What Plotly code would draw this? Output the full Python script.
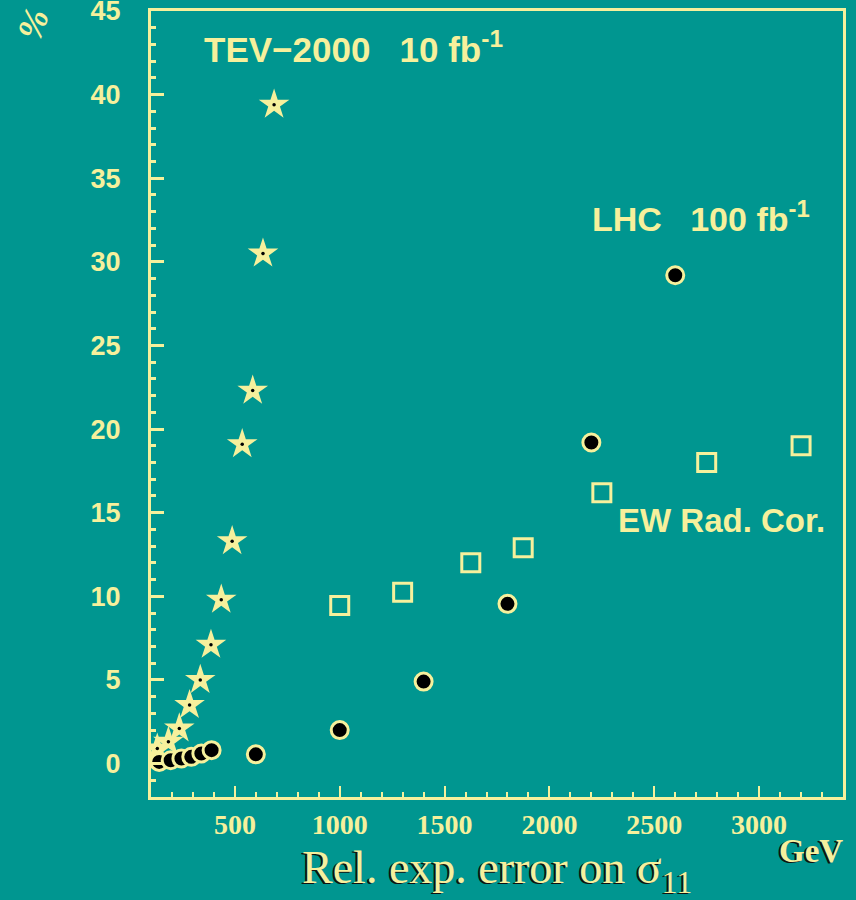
import plotly.graph_objects as go

# Colours
BG = "#009690"
INK = "#F6F09C"

# TEV-2000 (10 fb^-1): stars
tev_star_x = [130, 183, 235, 284, 335, 386, 435, 487, 535, 585, 634, 687]
tev_star_y = [0.9, 1.3, 2.1, 3.5, 5.0, 7.1, 9.8, 13.3, 19.1, 22.3, 30.5, 39.4]

# TEV-2000: filled circles at low mass
tev_circ_x = [139, 194, 245, 292, 340, 389]
tev_circ_y = [0.1, 0.2, 0.3, 0.4, 0.6, 0.8]

# LHC (100 fb^-1): filled circles
lhc_circ_x = [600, 1000, 1400, 1800, 2200, 2600]
lhc_circ_y = [0.55, 2.0, 4.9, 9.55, 19.2, 29.2]

# EW radiative corrections: open squares
ew_x = [1000, 1300, 1625, 1875, 2250, 2750, 3200]
ew_y = [9.45, 10.25, 12.0, 12.9, 16.2, 18.0, 19.0]

x_ticks = [500, 1000, 1500, 2000, 2500, 3000]
y_ticks = [0, 5, 10, 15, 20, 25, 30, 35, 40, 45]

fig = go.Figure()

fig.add_trace(go.Scatter(
    x=tev_star_x, y=tev_star_y, mode="markers",
    marker=dict(symbol="star", size=23, color=INK, line=dict(width=0)),
    hoverinfo="skip"))
fig.add_trace(go.Scatter(
    x=tev_star_x, y=tev_star_y, mode="markers",
    marker=dict(symbol="circle", size=3.5, color="black", line=dict(width=0)),
    hoverinfo="skip"))

fig.add_trace(go.Scatter(
    x=tev_circ_x + lhc_circ_x, y=tev_circ_y + lhc_circ_y, mode="markers",
    marker=dict(symbol="circle", size=17, color="black",
                line=dict(width=3, color=INK)),
    hoverinfo="skip"))

fig.add_trace(go.Scatter(
    x=ew_x, y=ew_y, mode="markers",
    marker=dict(symbol="square-open", size=18, color=INK,
                line=dict(width=3, color=INK)),
    hoverinfo="skip"))

sans = "Liberation Sans"
serif = "Liberation Serif"

fig.update_layout(
    width=856, height=900,
    paper_bgcolor=BG, plot_bgcolor=BG,
    showlegend=False,
    margin=dict(l=151, r=13, t=11, b=103, autoexpand=False),
    xaxis=dict(
        range=[100, 3400], tickvals=x_ticks,
        ticktext=[str(v) for v in x_ticks],
        showgrid=False, zeroline=False, automargin=False,
        showline=True, linecolor=INK, linewidth=3, mirror=True,
        ticks="inside", ticklen=11, tickwidth=2, tickcolor=INK,
        minor=dict(dtick=100, tick0=0, ticks="inside", ticklen=5,
                   tickwidth=2, tickcolor=INK, showgrid=False),
        tickfont=dict(family=serif, size=28, color=INK, weight="bold"),
        ticklabelstandoff=0,
    ),
    yaxis=dict(
        range=[-2, 45], tickvals=y_ticks,
        ticktext=[str(v) for v in y_ticks],
        showgrid=False, zeroline=False, automargin=False,
        showline=True, linecolor=INK, linewidth=3, mirror=True,
        ticks="inside", ticklen=13, tickwidth=2.5, tickcolor=INK,
        minor=dict(dtick=1, tick0=0, ticks="inside", ticklen=5,
                   tickwidth=2.5, tickcolor=INK, showgrid=False),
        tickfont=dict(family=sans, size=27, color=INK, weight="bold"),
        ticklabelstandoff=22,
        ticklabeloverflow="allow",
    ),
)

nb = "\u00a0"
annots = [
    (f"TEV\u22122000{nb}{nb}{nb}10 fb<sup>-1</sup>", 202, 47, 35),
    (f"LHC{nb}{nb}{nb}100 fb<sup>-1</sup>", 590, 216, 34),
    ("EW Rad. Cor.", 616, 520, 33),
]


def px_to_data(px, py):
    x = 100 + (px - 151) / (843 - 151) * 3300
    y = 45 - (py - 11) / (797 - 11) * 47
    return x, y


for txt, px, py, fs in annots:
    x, y = px_to_data(px, py)
    fig.add_annotation(
        x=x, y=y, xref="x", yref="y", text=txt, showarrow=False,
        xanchor="left", yanchor="middle",
        font=dict(family=sans, size=fs, color=INK, weight="bold"))

# axis titles
fig.add_annotation(
    x=(497 - 151) / 692, y=-(871 - 797) / 786, xref="paper", yref="paper",
    text="Rel. exp. error on \u03c3<sub>11</sub>", showarrow=False,
    xanchor="center", yanchor="middle",
    font=dict(family=serif, size=46, color=INK,
              shadow="-2px 1px 0px #111"))
fig.add_annotation(
    x=(845 - 151) / 692, y=-(851 - 797) / 786, xref="paper", yref="paper",
    text="GeV", showarrow=False, xanchor="right", yanchor="middle",
    font=dict(family=serif, size=33, color=INK, weight="bold",
              shadow="-2px 1px 0px #111"))
fig.add_annotation(
    x=-(151 - 33) / 692, y=1 - (24 - 11) / 786, xref="paper", yref="paper",
    text="%", showarrow=False, textangle=-70,
    xanchor="center", yanchor="middle",
    font=dict(family=serif, size=36, color=INK, weight="bold",
              style="italic"))

fig.write_html("out.html")
